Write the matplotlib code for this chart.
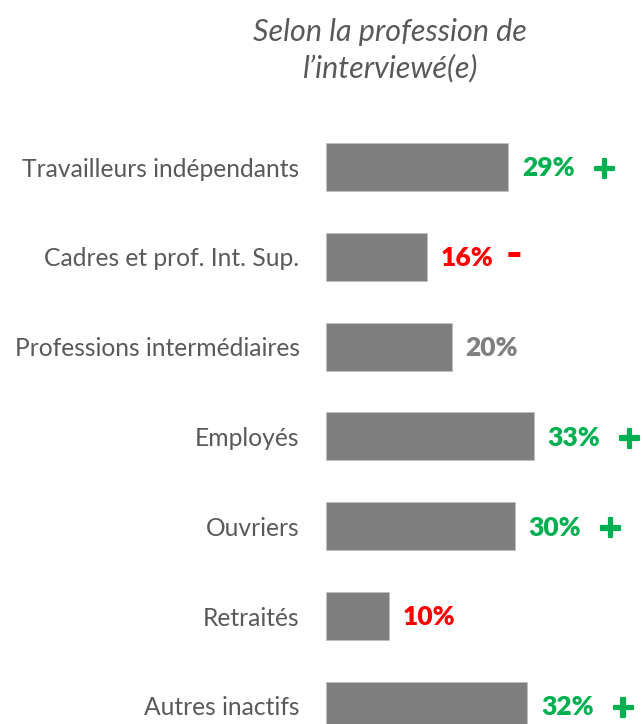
import matplotlib
matplotlib.use("Agg")
import matplotlib.pyplot as plt
import matplotlib.patheffects as pe

categories = ["Travailleurs indépendants", "Cadres et prof. Int. Sup.",
              "Professions intermédiaires", "Employés", "Ouvriers",
              "Retraités", "Autres inactifs"]
values = [29, 16, 20, 33, 30, 10, 32]
value_labels = ["29%", "16%", "20%", "33%", "30%", "10%", "32%"]
label_colors = ["#00B050", "#FF0000", "#7F7F7F", "#00B050", "#00B050", "#FF0000", "#00B050"]
signs = ["+", "-", "", "+", "+", "", "+"]

plt.rcParams['font.family'] = ['Lato', 'DejaVu Sans']

W, H = 644, 724
fig = plt.figure(figsize=(W / 100, H / 100), dpi=100)

step = 89.8
c0 = 167
top_px = c0 - step / 2
bot_px = c0 + step * (len(categories) - 0.5)
left_px = 326
ax = fig.add_axes([left_px / W, 1 - bot_px / H, 314.5 / W, (bot_px - top_px) / H])

y = list(range(len(categories)))
ax.barh(y, values, height=0.535, color="#7F7F7F", edgecolor="#BFBFBF", linewidth=0.6)
ax.set_xlim(0, 50)
ax.set_ylim(len(categories) - 0.5, -0.5)
ax.set_yticks(y)
ax.set_yticklabels(categories, fontsize=17.7, color="#595959")
ax.tick_params(axis="y", length=0, pad=19)
ax.set_xticks([])
for s in ax.spines.values():
    s.set_visible(False)

for i, (v, lab, col, sg) in enumerate(zip(values, value_labels, label_colors, signs)):
    t = ax.annotate(lab, xy=(v, i), xytext=(10, -1), textcoords="offset points",
                    ha="left", va="center", fontsize=19, fontweight="heavy", color=col)
    if sg == "+":
        ax.annotate("+", xy=(1, 0.5), xycoords=t, xytext=(12, -1),
                    textcoords="offset points", ha="left", va="center",
                    fontsize=22, fontweight="bold", family="DejaVu Sans", color=col,
                    path_effects=[pe.withStroke(linewidth=1.6, foreground=col)])
    elif sg == "-":
        ax.annotate(sg, xy=(1, 0.5), xycoords=t, xytext=(9, 2),
                    textcoords="offset points", ha="left", va="center",
                    fontsize=32, fontweight="heavy", color=col)

fig.text(390 / W, 1 - 50 / H, "Selon la profession de\nl\u2019interviewé(e)",
         ha="center", va="center", fontsize=22, style="italic", color="#595959",
         linespacing=1.32)

fig.savefig("out.png", dpi=100)
